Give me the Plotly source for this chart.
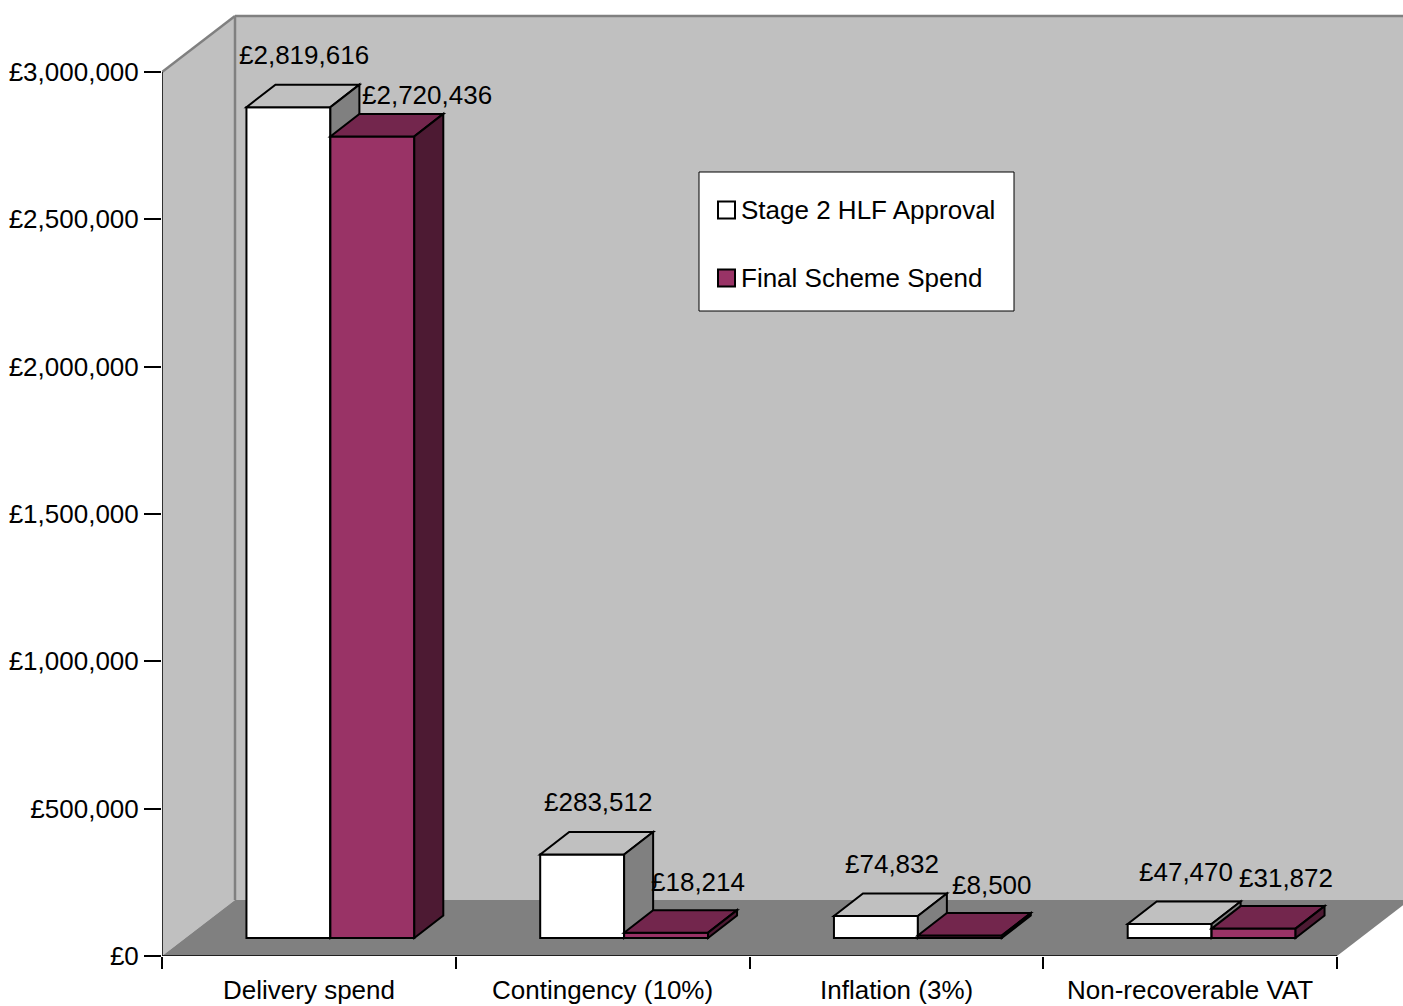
import plotly.graph_objects as go

# ---------------- data ----------------
categories = ["Delivery spend", "Contingency (10%)", "Inflation (3%)", "Non-recoverable VAT"]
series_names = ["Stage 2 HLF Approval", "Final Scheme Spend"]
stage2_approval = [2819616, 283512, 74832, 47470]
final_spend = [2720436, 18214, 8500, 31872]
y_tick_values = [0, 500000, 1000000, 1500000, 2000000, 2500000, 3000000]
y_tick_labels = ["£0", "£500,000", "£1,000,000", "£1,500,000", "£2,000,000", "£2,500,000", "£3,000,000"]

# ---------------- styling / geometry ----------------
FONT = "Liberation Sans, Arial, Helvetica, sans-serif"
FS = 26
W, H = 1403, 1006
ML, MR, MT, MB = 162, 0, 0, 50
PLOT_W = W - ML - MR
PLOT_H = H - MT - MB
CAT_PX = 293.75            # pixels per category on the front plane
VAL_PX = 884.0 / 3000000   # pixels per £
Y_MAX_WALL = y_tick_values[-1]

x_range = [-0.5, -0.5 + PLOT_W / CAT_PX]
y_range = [0, PLOT_H / VAL_PX]


def dx(px):
    return px / CAT_PX


def dy(px):
    return px / VAL_PX


def px_paper_x(px):
    return (px - ML) / PLOT_W


def px_paper_y(py):
    return (MT + PLOT_H - py) / PLOT_H


WALL_D = (73, 56)         # depth of the 3-D box (px)
FRONT_SHIFT = (21.5, 18)  # bars' front face shift into the box (px)
BAR_D = (29, 22.5)        # bar depth (px)
BAR_W = 1 / 3.5           # gap width 150 %

WALL_COL = "#C0C0C0"
WALL_EDGE = "#808080"
FLOOR_COL = "#808080"
series_faces = [
    {"front": "#FFFFFF", "top": "#C0C0C0", "side": "#808080"},
    {"front": "#993366", "top": "#73264D", "side": "#4D1A33"},
]
LABEL_OFFSET = {0: (58, 52), 1: (74, 51)}
LABEL_NUDGE = {(0, 1): (23, -10)}


def path(points):
    return "M " + " L ".join(f"{x},{y}" for x, y in points) + " Z"


shapes = []
annotations = []

wx, wy = dx(WALL_D[0]), dy(WALL_D[1])
x_left = x_range[0]
x_front_right = len(categories) - 0.5
x_far = x_range[1] + 0.5

# back wall
shapes.append(dict(type="path", xref="x", yref="y",
                   path=path([(x_left + wx, wy), (x_far, wy), (x_far, Y_MAX_WALL + wy), (x_left + wx, Y_MAX_WALL + wy)]),
                   fillcolor=WALL_COL, line=dict(width=0), layer="above"))
# side wall
shapes.append(dict(type="path", xref="x", yref="y",
                   path=path([(x_left, 0), (x_left, Y_MAX_WALL), (x_left + wx, Y_MAX_WALL + wy), (x_left + wx, wy)]),
                   fillcolor=WALL_COL, line=dict(width=0), layer="above"))
# floor
shapes.append(dict(type="path", xref="x", yref="y",
                   path=path([(x_left, 0), (x_front_right, 0), (x_front_right + wx, wy), (x_left + wx, wy)]),
                   fillcolor=FLOOR_COL, line=dict(width=0), layer="above"))
# wall edges
for (xa, ya, xb, yb) in [
    (x_left, Y_MAX_WALL, x_left + wx, Y_MAX_WALL + wy),
    (x_left + wx, Y_MAX_WALL + wy, x_far, Y_MAX_WALL + wy),
    (x_left + wx, Y_MAX_WALL + wy, x_left + wx, wy),
]:
    shapes.append(dict(type="line", xref="x", yref="y", x0=xa, y0=ya, x1=xb, y1=yb,
                       line=dict(color=WALL_EDGE, width=2.5), layer="above"))
# front axis edges (black)
shapes.append(dict(type="line", xref="x", yref="y", x0=x_left, y0=0, x1=x_left, y1=Y_MAX_WALL,
                   line=dict(color="black", width=1.5), layer="above"))
shapes.append(dict(type="line", xref="x", yref="y", x0=x_left, y0=0, x1=x_front_right, y1=0,
                   line=dict(color="black", width=1.5), layer="above"))

# bars
fx, fy = dx(FRONT_SHIFT[0]), dy(FRONT_SHIFT[1])
bx, by = dx(BAR_D[0]), dy(BAR_D[1])
all_series = [stage2_approval, final_spend]
for i, cat in enumerate(categories):
    for s, vals in enumerate(all_series):
        v = vals[i]
        x0 = i - BAR_W + s * BAR_W + fx
        x1 = x0 + BAR_W
        y0 = fy
        y1 = fy + v
        faces = series_faces[s]
        edge = dict(color="black", width=2)
        shapes.append(dict(type="path", xref="x", yref="y",
                           path=path([(x0, y0), (x1, y0), (x1, y1), (x0, y1)]),
                           fillcolor=faces["front"], line=edge, layer="above"))
        shapes.append(dict(type="path", xref="x", yref="y",
                           path=path([(x0, y1), (x1, y1), (x1 + bx, y1 + by), (x0 + bx, y1 + by)]),
                           fillcolor=faces["top"], line=edge, layer="above"))
        shapes.append(dict(type="path", xref="x", yref="y",
                           path=path([(x1, y0), (x1 + bx, y0 + by), (x1 + bx, y1 + by), (x1, y1)]),
                           fillcolor=faces["side"], line=edge, layer="above"))
        ox, oy = LABEL_OFFSET[s]
        nx, ny = LABEL_NUDGE.get((i, s), (0, 0))
        annotations.append(dict(xref="x", yref="y", x=x0 + dx(ox + nx), y=y1 + dy(oy + ny),
                                text=f"£{v:,}", showarrow=False, xanchor="center", yanchor="middle",
                                font=dict(family=FONT, size=FS, color="black")))

# category labels
for i, cat in enumerate(categories):
    annotations.append(dict(xref="x", yref="paper", x=i, y=0, yshift=-34,
                            text=cat, showarrow=False, xanchor="center", yanchor="middle",
                            borderpad=0,
                            font=dict(family=FONT, size=FS, color="black")))

# legend (drawn)
LEG_BOX = (699, 172, 1014, 311)
shapes.append(dict(type="rect", xref="paper", yref="paper",
                   x0=px_paper_x(LEG_BOX[0]), x1=px_paper_x(LEG_BOX[2]),
                   y0=px_paper_y(LEG_BOX[3]), y1=px_paper_y(LEG_BOX[1]),
                   fillcolor="white", line=dict(color="black", width=1), layer="above"))
leg_rows = [210, 278]
for s, name in enumerate(series_names):
    cy = leg_rows[s]
    shapes.append(dict(type="rect", xref="paper", yref="paper",
                       x0=px_paper_x(718), x1=px_paper_x(735),
                       y0=px_paper_y(cy + 8.5), y1=px_paper_y(cy - 8.5),
                       fillcolor=series_faces[s]["front"], line=dict(color="black", width=2), layer="above"))
    annotations.append(dict(xref="paper", yref="paper", x=px_paper_x(739), y=px_paper_y(cy),
                            text=name, showarrow=False, xanchor="left", yanchor="middle",
                            font=dict(family=FONT, size=FS, color="black")))

fig = go.Figure()
for s, vals in enumerate(all_series):
    fig.add_trace(go.Scatter(
        x=[i - BAR_W / 2 + s * BAR_W for i in range(len(categories))], y=vals,
        mode="markers", marker=dict(opacity=0, size=1), name=series_names[s],
        text=categories, hovertemplate="%{text}<br>£%{y:,}<extra>" + series_names[s] + "</extra>",
        showlegend=False))

fig.update_layout(
    width=W, height=H,
    margin=dict(l=ML, r=MR, t=MT, b=MB, pad=0),
    paper_bgcolor="white", plot_bgcolor="white",
    showlegend=False,
    font=dict(family=FONT, size=FS, color="black"),
    shapes=shapes,
    annotations=annotations,
    xaxis=dict(range=x_range, showgrid=False, zeroline=False, showline=False,
               tickmode="array", tickvals=[k - 0.5 for k in range(len(categories) + 1)],
               ticktext=[""] * (len(categories) + 1),
               ticks="outside", ticklen=12, tickwidth=1.5, tickcolor="black",
               fixedrange=True),
    yaxis=dict(range=y_range, showgrid=False, zeroline=False, showline=False,
               tickmode="array", tickvals=y_tick_values, ticktext=y_tick_labels,
               ticks="outside", ticklen=17, tickwidth=1.5, tickcolor="black",
               tickfont=dict(family=FONT, size=FS, color="black"),
               fixedrange=True),
)

fig.write_html("out.html")
